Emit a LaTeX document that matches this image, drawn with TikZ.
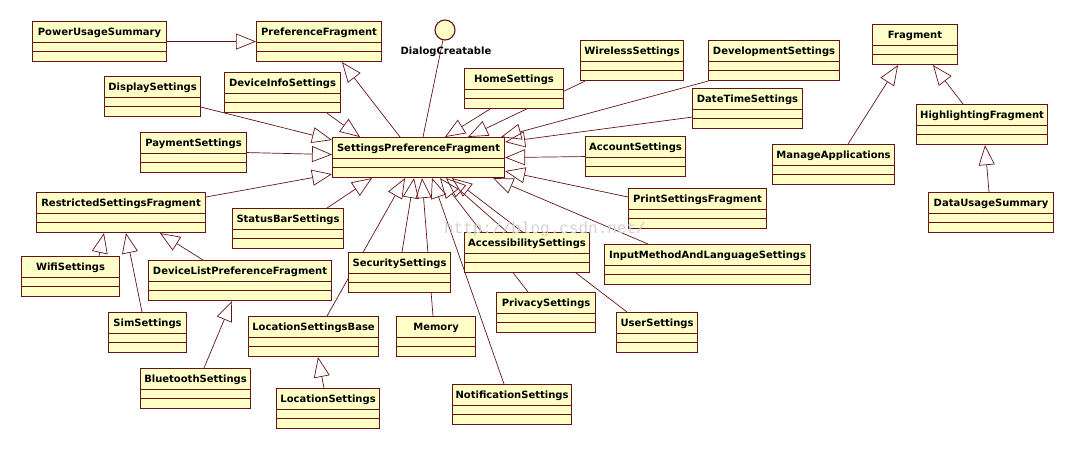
\documentclass[tikz,border=0pt]{standalone}
\usepackage{fontspec}
\setmainfont{DejaVu Sans}
\newfontfamily\wmfont{Liberation Mono}
\usetikzlibrary{arrows.meta, backgrounds}
\definecolor{umlfill}{RGB}{255,255,200}
\definecolor{umlline}{RGB}{100,20,20}

\begin{document}
\begin{tikzpicture}[
    x=1pt, y=-1pt,
    font=\bfseries\fontsize{10}{12}\selectfont,
    cls/.style={draw=umlline, fill=umlfill, line width=1.1pt, anchor=north west,
                inner xsep=1pt, inner ysep=0pt, text height=14pt, text depth=26pt,
                path picture={
                  \draw[umlline, line width=1.1pt]
                    ([yshift=-21pt]path picture bounding box.north west) -- ([yshift=-21pt]path picture bounding box.north east)
                    ([yshift=-30pt]path picture bounding box.north west) -- ([yshift=-30pt]path picture bounding box.north east);}},
    iface/.style={circle, draw=umlline, fill=umlfill, line width=1.1pt, minimum size=20pt, inner sep=0pt},
    gen/.style={draw=umlline, line width=0.7pt, -{Triangle[open, length=20pt, width=16pt]}},
    assoc/.style={draw=umlline, line width=0.7pt},
  ]
  \useasboundingbox (0,0) rectangle (1074,450);

  \node[cls, minimum width=134pt] (pus) at (32,21) {PowerUsageSummary};
  \node[cls, minimum width=125pt] (pf) at (256,21) {PreferenceFragment};
  \node[iface] (dialog) at (445,30) {};
  \node (dialoglabel) at (446,52) {DialogCreatable};
  \node[cls, minimum width=96pt] (disp) at (104,76) {DisplaySettings};
  \node[cls, minimum width=116pt] (devinfo) at (224,72) {DeviceInfoSettings};
  \node[cls, minimum width=106pt] (pay) at (140,132) {PaymentSettings};
  \node[cls, minimum width=172pt] (spf) at (332,137) {SettingsPreferenceFragment};
  \node[cls, minimum width=99pt] (home) at (464,68) {HomeSettings};
  \node[cls, minimum width=103pt] (wireless) at (580,40) {WirelessSettings};
  \node[cls, minimum width=131pt] (devel) at (708,40) {DevelopmentSettings};
  \node[cls, minimum width=110pt] (datetime) at (692,88) {DateTimeSettings};
  \node[cls, minimum width=100pt] (account) at (585,136) {AccountSettings};
  \node[cls, minimum width=138pt] (printsf) at (628,188) {PrintSettingsFragment};
  \node[cls, minimum width=206pt] (inputm) at (604,244) {InputMethodAndLanguageSettings};
  \node[cls, minimum width=125pt] (access) at (464,232) {AccessibilitySettings};
  \node[cls, minimum width=102pt] (security) at (348,252) {SecuritySettings};
  \node[cls, minimum width=111pt] (statusbar) at (232,208) {StatusBarSettings};
  \node[cls, minimum width=169pt] (restricted) at (36,192) {RestrictedSettingsFragment};
  \node[cls, minimum width=98pt] (wifi) at (21,256) {WifiSettings};
  \node[cls, minimum width=183pt] (devlist) at (148,260) {DeviceListPreferenceFragment};
  \node[cls, minimum width=78pt] (sim) at (108,312) {SimSettings};
  \node[cls, minimum width=110pt] (bluetooth) at (140,368) {BluetoothSettings};
  \node[cls, minimum width=130pt] (locbase) at (248,316) {LocationSettingsBase};
  \node[cls, minimum width=103pt] (location) at (276,388) {LocationSettings};
  \node[cls, minimum width=79pt] (memory) at (396,316) {Memory};
  \node[cls, minimum width=119pt] (notif) at (452,384) {NotificationSettings};
  \node[cls, minimum width=99pt] (privacy) at (496,292) {PrivacySettings};
  \node[cls, minimum width=81pt] (user) at (616,312) {UserSettings};
  \node[cls, minimum width=85pt] (fragment) at (872,24) {Fragment};
  \node[cls, minimum width=131pt] (highlight) at (916,104) {HighlightingFragment};
  \node[cls, minimum width=122pt] (manage) at (772,144) {ManageApplications};
  \node[cls, minimum width=125pt] (datausage) at (928,192) {DataUsageSummary};

  \begin{scope}[on background layer]
    \draw[gen] (pus.east) -- (pf.west);
    \draw[gen] ([xshift=68pt]spf.north west) -- ([xshift=86pt]pf.south west);
    \draw[assoc] (dialog) -- ([xshift=91pt]spf.north west);
    \draw[gen] ([xshift=103pt]devinfo.south west) -- ([xshift=28pt]spf.north west);
    \draw[gen] ([yshift=10pt]disp.south east) -- ([yshift=-3pt]spf.north west);
    \draw[gen] (pay.east) -- ([yshift=3pt]spf.west);
    \draw[gen] ([yshift=-5pt]restricted.north east) -- ([yshift=4pt]spf.south west);
    \draw[gen] ([xshift=95pt]statusbar.north west) -- ([xshift=40pt]spf.south west);
    \draw[gen] ([xshift=79pt]locbase.north west) -- ([xshift=73pt]spf.south west);
    \draw[gen] ([xshift=54pt]security.north west) -- ([xshift=82pt]spf.south west);
    \draw[gen] ([xshift=37pt]memory.north west) -- ([xshift=90pt]spf.south west);
    \draw[gen] ([xshift=52pt]notif.north west) -- ([xshift=100pt]spf.south west);
    \draw[gen] ([xshift=32pt]privacy.north west) -- ([xshift=108pt]spf.south west);
    \draw[gen] ([xshift=43pt]access.north west) -- ([xshift=114pt]spf.south west);
    \draw[gen] ([xshift=11pt]user.north west) -- ([xshift=120pt]spf.south west);
    \draw[gen] ([xshift=44pt]inputm.north west) -- ([xshift=-12pt]spf.south east);
    \draw[gen] ([yshift=-9pt]printsf.north west) -- ([yshift=7pt]spf.south east);
    \draw[gen] (account.west) -- (spf.east);
    \draw[gen] ([yshift=12pt]datetime.south west) -- ([yshift=-5pt]spf.north east);
    \draw[gen] (devel.south west) -- ([xshift=-4pt]spf.north east);
    \draw[gen] ([xshift=26pt]home.south west) -- ([xshift=113pt]spf.north west);
    \draw[gen] ([xshift=5pt]wireless.south west) -- ([xshift=136pt]spf.north west);
    \draw[gen] ([xshift=76pt]manage.north west) -- ([xshift=26pt]fragment.south west);
    \draw[gen] ([xshift=47pt]highlight.north west) -- ([xshift=61pt]fragment.south west);
    \draw[gen] ([xshift=61pt]datausage.north west) -- ([xshift=69pt]highlight.south west);
    \draw[gen] ([xshift=78pt]wifi.north west) -- ([xshift=68pt]restricted.south west);
    \draw[gen] ([xshift=34pt]sim.north west) -- ([xshift=90pt]restricted.south west);
    \draw[gen] ([xshift=55pt]devlist.north west) -- ([xshift=124pt]restricted.south west);
    \draw[gen] ([xshift=64pt]bluetooth.north west) -- ([xshift=84pt]devlist.south west);
    \draw[gen] ([xshift=48pt]location.north west) -- ([xshift=70pt]locbase.south west);
  \end{scope}

  \node[font=\wmfont\fontsize{16}{16}\selectfont, text=black!18, inner sep=0pt] (watermark) at (545,229) {http://blog.csdn.net/};
\end{tikzpicture}
\end{document}
